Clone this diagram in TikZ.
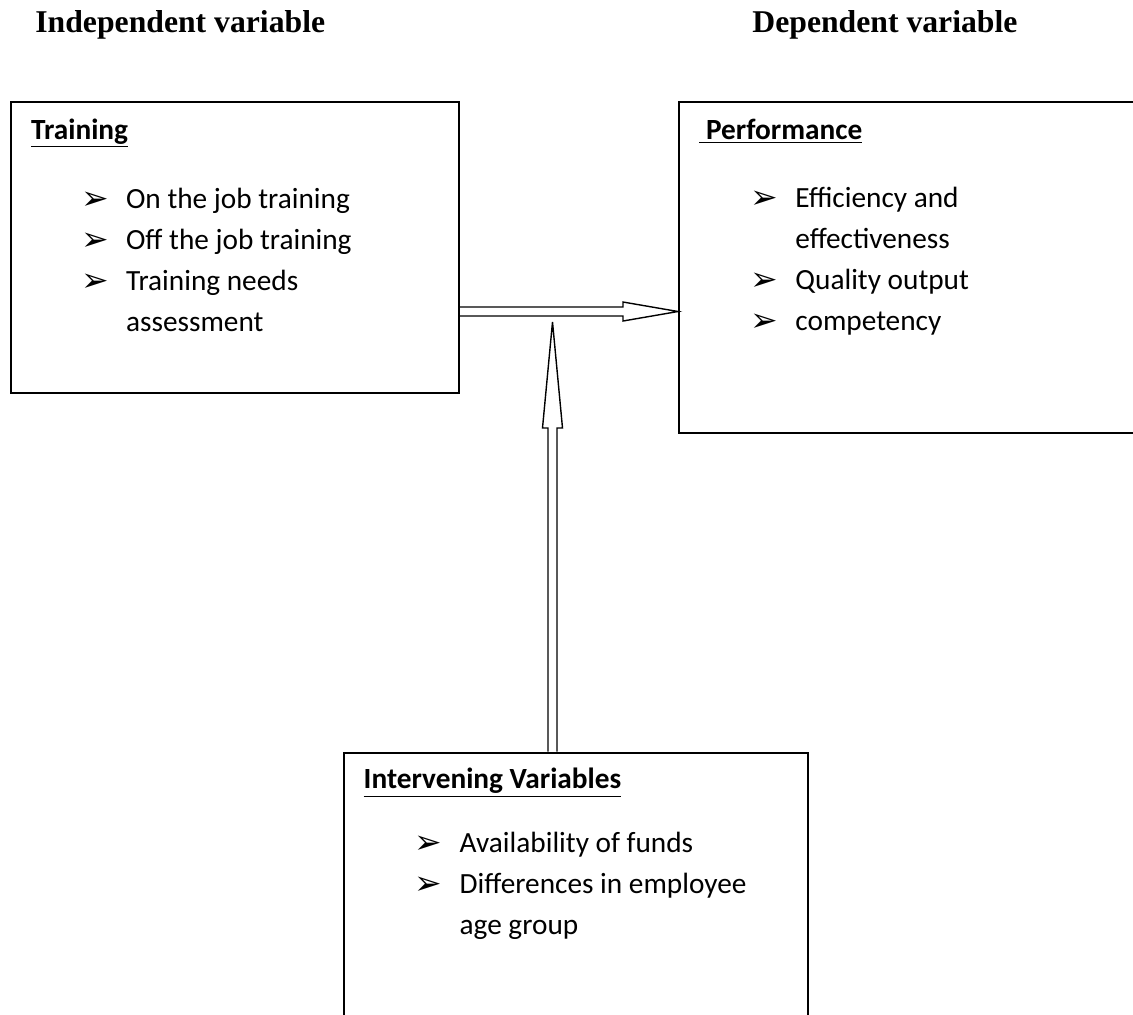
\documentclass[tikz,border=0pt]{standalone}
\usepackage{fontspec}
\setmainfont{Carlito}
\newfontfamily\titlefont{Liberation Serif}
\newfontfamily\symfont{DejaVu Sans}
\usetikzlibrary{calc,positioning}
\newcommand{\bul}{\makebox[22.5pt][l]{\raisebox{-0.5pt}{\symfont\fontsize{16.5}{16.5}\selectfont ➢}}}
\newcommand{\nobul}{\hspace*{22.5pt}}

\begin{document}
\begin{tikzpicture}[x=0.5pt,y=-0.5pt,
    varbox/.style={draw, line width=1pt, inner sep=0},
    title/.style={inner sep=0, anchor=base west, font=\titlefont\bfseries\fontsize{15.85}{19}\selectfont},
    head/.style={inner sep=0, anchor=base west, font=\bfseries\fontsize{14.65}{20.5}\selectfont},
    item/.style={inner sep=0, anchor=base west, font=\fontsize{14.65}{20.5}\selectfont},
    blockarrow/.style={draw, fill=white, line width=0.7pt, line join=miter}
    ]
\useasboundingbox (0,0) rectangle (1133,1014);
\clip (0,0) rectangle (1133,1014);

% column titles
\node[title] (indep) at (35,32.5) {Independent variable};
\node[title] (dep) at (752,32.5) {Dependent variable};

% the three boxes
\node[varbox, minimum width=224.2pt, minimum height=145.5pt] (train) at (234.9,247.5) {};
\node[varbox, minimum width=235.5pt, minimum height=165.5pt] (perf) at (914.5,267.5) {};
\node[varbox, minimum width=231.7pt, minimum height=138.7pt] (inter) at (576,891.4) {};

% headings
\node[head] (trainhd) at ($(train.north west)+(21,38)$) {\underline{Training}};
\node[head] (perfhd) at ($(perf.north west)+(21,38)$) {\underline{\ Performance}};
\node[head] (interhd) at ($(inter.north west)+(20,37)$) {\underline{Intervening Variables}};

% bullet lines
\foreach \b/\txt [count=\i] in {\bul/On the job training, \bul/Off the job training, \bul/Training needs, \nobul/assessment}
  \node[item] (train\i) at ($(train.north west)+(71,{66+41*\i})$) {\b\txt};
\foreach \b/\txt [count=\i] in {\bul/Efficiency and, \nobul/effectiveness, \bul/Quality output, \bul/competency}
  \node[item] (perf\i) at ($(perf.north west)+(72,{65+41*\i})$) {\b\txt};
\foreach \b/\txt [count=\i] in {\bul/Availability of funds, \bul/Differences in employee, \nobul/age group}
  \node[item] (inter\i) at ($(inter.north west)+(71,{60+41*\i})$) {\b\txt};

% block arrows
\coordinate (hs) at ($(train.east)+(0,64)$);
\coordinate (he) at ($(perf.west)+(0,44)$);
\draw[blockarrow] ($(hs)+(0,-4.5)$) -- ($(he)+(-55,-4.5)$) -- ($(he)+(-55,-9.5)$) -- (he)
  -- ($(he)+(-55,9.5)$) -- ($(he)+(-55,4.5)$) -- ($(hs)+(0,4.5)$);

\coordinate (vs) at ($(inter.north)+(-23.5,0)$);
\coordinate (vt) at (552.5,322);
\draw[blockarrow] ($(vs)+(-4.5,0)$) -- ($(vt)+(-4.5,106)$) -- ($(vt)+(-10,106)$) -- (vt)
  -- ($(vt)+(10,106)$) -- ($(vt)+(4.5,106)$) -- ($(vs)+(4.5,0)$);

\end{tikzpicture}
\end{document}
